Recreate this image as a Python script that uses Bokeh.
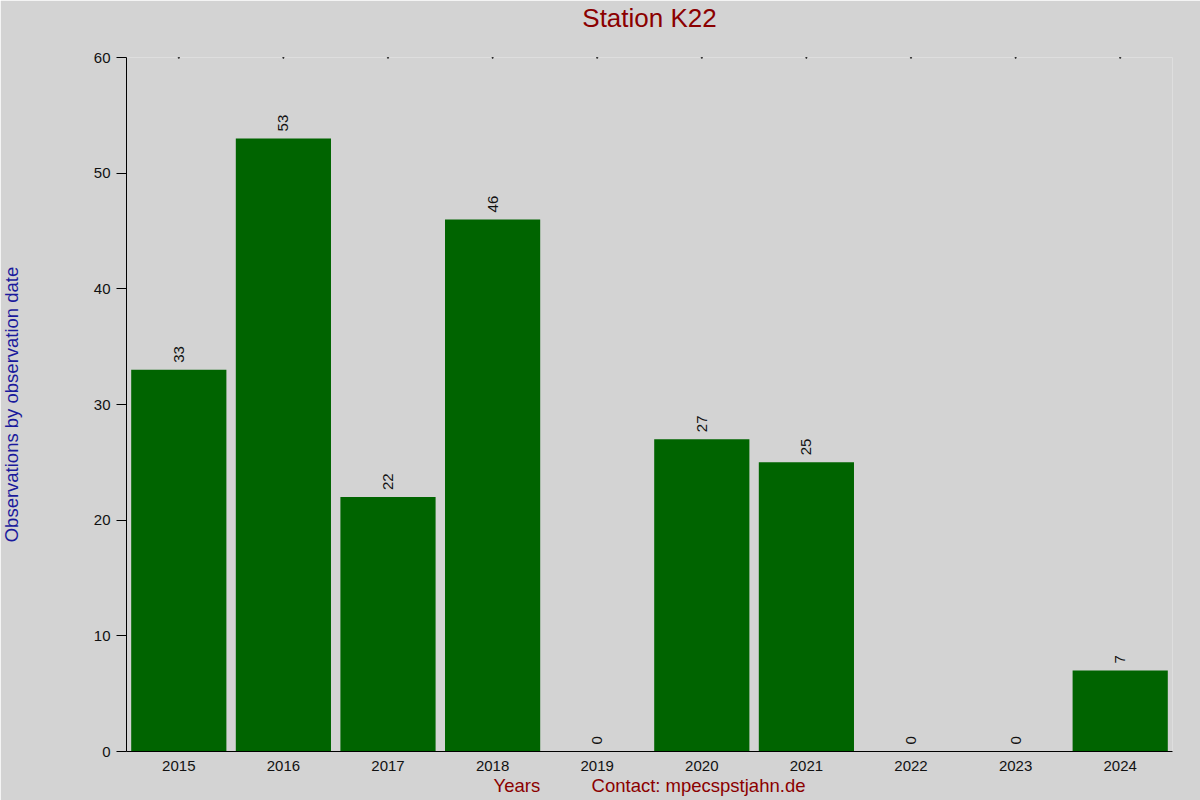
import math

from bokeh.core.properties import value
from bokeh.embed import file_html
from bokeh.models import ColumnDataSource, FactorRange, Label, Range1d
from bokeh.plotting import figure
from bokeh.resources import INLINE

years = ['2015', '2016', '2017', '2018', '2019', '2020', '2021', '2022', '2023', '2024']
counts = [33, 53, 22, 46, 0, 27, 25, 0, 0, 7]
y_ticks = [0, 10, 20, 30, 40, 50, 60]

FONT = "Liberation Sans"
BG = "#d3d3d3"

source = ColumnDataSource(data=dict(
    year=years,
    count=counts,
    label=[str(c) for c in counts],
    top=[y_ticks[-1]] * len(years),
))

p = figure(width=1200, height=800,
           x_range=FactorRange(*years, range_padding=0),
           y_range=Range1d(y_ticks[0], y_ticks[-1]),
           output_backend="svg", toolbar_location=None,
           min_border_left=126, min_border_right=28,
           min_border_top=57, min_border_bottom=49)

p.background_fill_color = BG
p.border_fill_color = BG
p.outline_line_color = None
p.grid.grid_line_color = None

# title as a label in the top panel (not clipped to the frame there)
title = Label(x=len(years) / 2, y=y_ticks[-1], y_offset=40,
              text="Station K22", text_align="center", text_baseline="middle",
              text_font=FONT, text_font_size="26px", text_color="#8b0000")
p.add_layout(title, "above")

# bars + value labels
p.vbar(x='year', top='count', width=0.91, source=source,
       fill_color="#006400", line_color=None)
p.text(x='year', y='count', text='label', source=source,
       angle=math.pi / 2, text_align="left", text_baseline="middle",
       y_offset=-7, text_font=value(FONT), text_font_size="15px",
       text_color="#111111")

# tiny dots along the top edge
p.scatter(x='year', y='top', source=source, marker="square", size=1.2,
          color="black")

# x axis
xa = p.xaxis[0]
xa.axis_line_color = "black"
xa.major_tick_out = 0
xa.major_tick_in = 0
xa.minor_tick_line_color = None
xa.major_label_text_font = FONT
xa.major_label_text_font_size = "15px"
xa.major_label_text_color = "#111111"
xa.major_label_standoff = 9
xa.axis_label = "Years" + "\u00a0" * 10 + "Contact: mpecspstjahn.de"
xa.axis_label_text_font = FONT
xa.axis_label_text_font_size = "18.5px"
xa.axis_label_text_font_style = "normal"
xa.axis_label_text_color = "#8b0000"
xa.axis_label_standoff = 1

# y axis
ya = p.yaxis[0]
ya.ticker = y_ticks
ya.axis_line_color = "black"
ya.major_tick_out = 10
ya.major_tick_in = 0
ya.minor_tick_line_color = None
ya.major_label_text_font = FONT
ya.major_label_text_font_size = "15px"
ya.major_label_text_color = "#111111"
ya.major_label_standoff = 6

ylab = Label(x=0, y=(y_ticks[0] + y_ticks[-1]) / 2, x_offset=-115,
             angle=math.pi / 2, text="Observations by observation date",
             text_align="center", text_baseline="middle",
             text_font=FONT, text_font_size="18.5px", text_color="#1a1a9c")
p.add_layout(ylab, "left")

open("out.html", "w").write(file_html(p, INLINE))
